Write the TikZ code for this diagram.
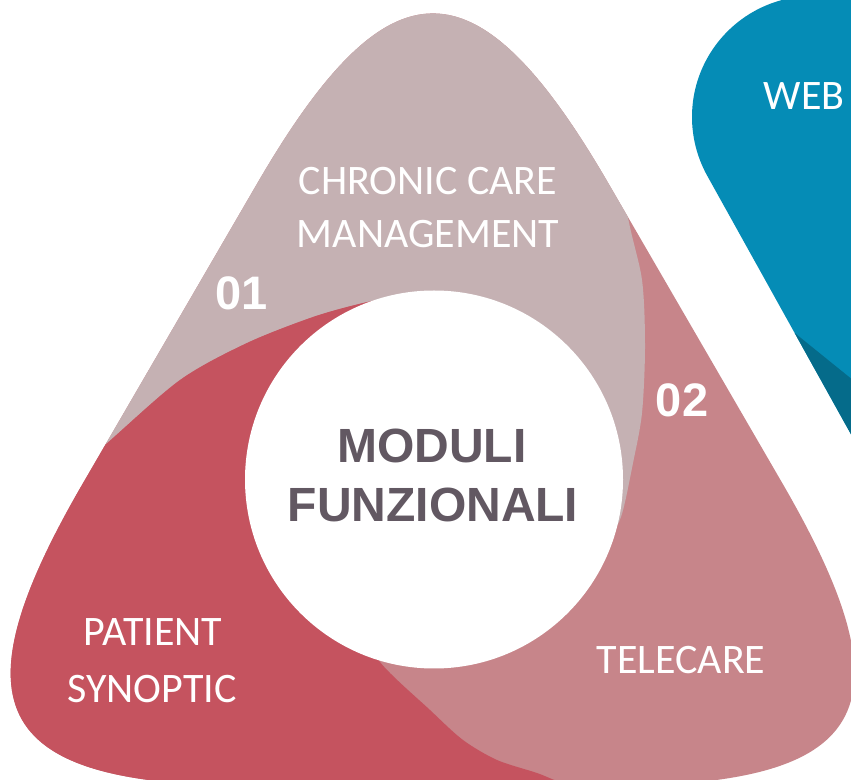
\documentclass[tikz,border=0pt]{standalone}
\usepackage{fontspec}
\usetikzlibrary{calc}
\newfontfamily\lblfont{Carlito}
\newfontfamily\numfont{Liberation Sans}
\definecolor{topc}{HTML}{C5B1B3}
\definecolor{redc}{HTML}{C5535F}
\definecolor{pinkc}{HTML}{C7858A}
\definecolor{webblue}{HTML}{058CB6}
\definecolor{webdark}{HTML}{056B8A}
\definecolor{coretext}{HTML}{625862}
\newcommand\outershape{($(A)!350pt!(B)$) -- ($(B)!350pt!(A)$)
  .. controls ($(B)!87.5pt!(A)$) and ($(B)!87.5pt!(C)$) .. ($(B)!350pt!(C)$)
  -- ($(C)!350pt!(B)$)
  .. controls ($(C)!87.5pt!(B)$) and ($(C)!87.5pt!(A)$) .. ($(C)!350pt!(A)$)
  -- ($(A)!350pt!(C)$)
  .. controls ($(A)!87.5pt!(C)$) and ($(A)!87.5pt!(B)$) .. ($(A)!350pt!(B)$) -- cycle}
\newcommand\webshape{(1000,783) -- (813,783) arc[start angle=90,end angle=209,radius=121] -- ++(291.6,-524.4) -- (1000,79) -- cycle}
\tikzset{
  lbl/.style={anchor=base, inner sep=0pt, text=white, font=\lblfont\fontsize{42}{50}\selectfont},
  num/.style={anchor=base, inner sep=0pt, text=white, font=\numfont\bfseries\fontsize{47}{55}\selectfont},
  core/.style={anchor=base, inner sep=0pt, text=coretext, font=\numfont\bfseries\fontsize{48}{56}\selectfont}
}
\begin{document}
\begin{tikzpicture}[x=1pt,y=1pt]
\useasboundingbox (0,0) rectangle (851,779);
\clip (0,0) rectangle (851,779);
\coordinate (A) at (433,898);
\coordinate (B) at (-93,-7);
\coordinate (C) at (958,-7);
% web shape
\fill[webblue] \webshape;
\begin{scope}
  \clip \webshape;
  \fill[webdark] (794.7,446) -- (1000,280) -- (1000,-50) -- (700,-50) -- cycle;
\end{scope}
% main rounded triangle
\fill[pinkc] \outershape;
\begin{scope}
  \clip \outershape;
  \fill[topc] (434,300) -- plot[smooth] coordinates {(405,484) (363,476) (313,462) (247,436) (180,399) (105,334) (40,278)}
    -- (-100,200) -- (-100,950) -- (800,950) -- (700,720)
    -- plot[smooth] coordinates {(612,680) (627,567) (642,499) (645,432) (642,366) (633,316) (621,262) (605,235)} -- cycle;
  \fill[redc] (434,300) -- plot[smooth] coordinates {(405,484) (363,476) (313,462) (247,436) (180,399) (105,334) (40,278)}
    -- (-100,200) -- (-100,-100) -- (640,-100)
    -- plot[smooth] coordinates {(600,-14) (560,-3) (537,6) (497,19) (463,39) (430,69) (380,117) (360,160)} -- cycle;
\end{scope}
\node[circle, fill=white, minimum size=378pt, inner sep=0pt] (hub) at (434,299.5) {};
% texts
\node[lbl] (web) at (804,669) {WEB};
\node[lbl] (ccm1) at (428,584) {CHRONIC CARE};
\node[lbl] (ccm2) at (428,531) {MANAGEMENT};
\node[num] (n01) at (242,469) {01};
\node[num] (n02) at (682,362) {02};
\node[core] (mod1) at (432,316) {MODULI};
\node[core] (mod2) at (433,257) {FUNZIONALI};
\node[lbl] (ps1) at (153,133) {PATIENT};
\node[lbl] (ps2) at (152,77) {SYNOPTIC};
\node[lbl] (tele) at (681,105) {TELECARE};
\end{tikzpicture}
\end{document}
